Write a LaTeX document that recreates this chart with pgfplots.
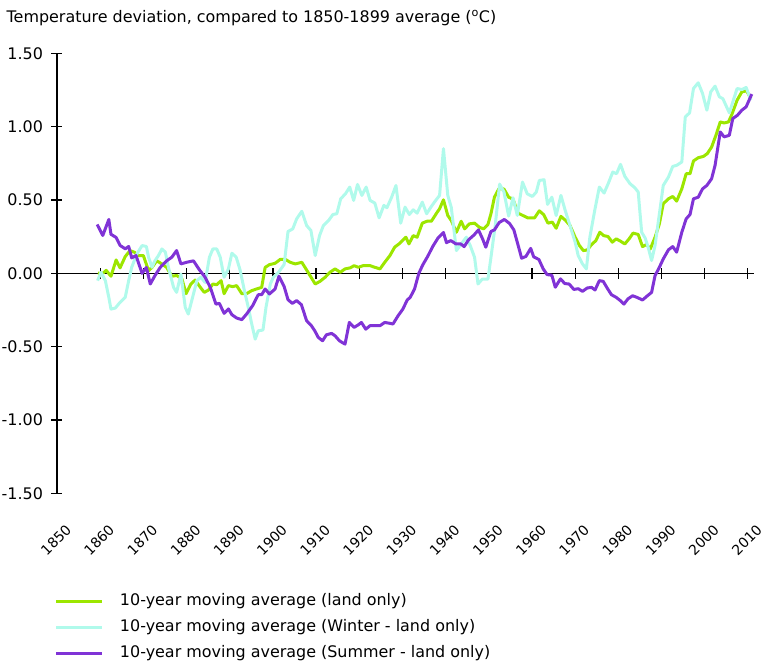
\documentclass[border=0pt]{standalone}
\usepackage{fontspec}
\setmainfont{DejaVu Sans}
\usepackage{pgfplots}
\usepackage{pgfplotstable}
\pgfplotsset{compat=1.18}
\definecolor{cgreen}{RGB}{156,230,0}
\definecolor{ccyan}{RGB}{176,250,235}
\definecolor{cpurple}{RGB}{128,51,214}

\pgfplotstableread{
x y
1859.5 0.003
1860.4 -0.006
1861.4 0.02
1862.5 -0.02
1863.7 0.091
1864.6 0.037
1865.8 0.114
1866.9 0.155
1867.9 0.144
1868.9 0.121
1870.0 0.121
1871.2 0.018
1872.0 0.040
1873.1 0.085
1874.3 0.064
1875.4 0.040
1876.6 -0.020
1877.7 -0.015
1878.9 -0.036
1879.9 -0.139
1881.0 -0.073
1882.0 -0.046
1883.2 -0.096
1884.1 -0.130
1885.1 -0.114
1886.1 -0.073
1887.0 -0.078
1888.0 -0.050
1888.7 -0.139
1889.7 -0.084
1890.7 -0.091
1891.6 -0.084
1892.8 -0.139
1893.9 -0.139
1895.1 -0.118
1896.2 -0.107
1897.4 -0.096
1898.2 0.040
1899.2 0.059
1900.5 0.068
1901.7 0.095
1902.9 0.095
1904.0 0.075
1905.2 0.064
1906.7 0.075
1907.9 0.018
1909.8 -0.073
1910.9 -0.055
1912.1 -0.027
1913.2 0.007
1914.4 0.030
1915.6 0.007
1916.7 0.030
1917.9 0.037
1918.8 0.052
1919.8 0.041
1920.9 0.052
1922.5 0.052
1923.6 0.041
1924.8 0.030
1925.9 0.075
1927.1 0.121
1928.2 0.178
1929.4 0.205
1930.8 0.246
1931.5 0.200
1932.5 0.257
1933.4 0.246
1934.6 0.342
1935.7 0.355
1936.7 0.355
1937.9 0.410
1938.6 0.440
1939.5 0.501
1940.5 0.394
1941.3 0.360
1942.5 0.280
1943.6 0.355
1944.4 0.303
1945.5 0.337
1946.7 0.342
1947.8 0.314
1948.8 0.303
1949.8 0.333
1950.5 0.406
1951.3 0.519
1952.3 0.575
1953.5 0.575
1954.6 0.519
1955.6 0.505
1956.8 0.410
1957.9 0.394
1959.0 0.378
1960.6 0.378
1961.7 0.426
1962.7 0.400
1963.7 0.342
1964.7 0.349
1965.6 0.307
1966.7 0.388
1967.8 0.360
1968.8 0.326
1970.0 0.246
1971.0 0.189
1971.9 0.155
1972.8 0.159
1973.8 0.196
1974.8 0.223
1975.7 0.280
1976.6 0.257
1977.6 0.251
1978.6 0.212
1979.5 0.235
1980.5 0.219
1981.5 0.200
1982.5 0.235
1983.4 0.274
1984.6 0.265
1985.6 0.182
1986.5 0.196
1987.4 0.166
1988.5 0.246
1989.5 0.337
1990.4 0.474
1991.6 0.508
1992.6 0.524
1993.5 0.492
1994.7 0.576
1995.7 0.679
1996.6 0.679
1997.4 0.766
1998.5 0.788
1999.7 0.797
2000.6 0.816
2001.6 0.861
2002.6 0.941
2003.6 1.032
2004.5 1.025
2005.5 1.032
2006.3 1.084
2007.5 1.180
2008.6 1.237
2009.7 1.244
2010.7 1.191
}\landdata

\pgfplotstableread{
x y
1859.4 -0.050
1860.2 0.007
1861.2 -0.050
1862.0 -0.164
1862.5 -0.244
1863.5 -0.237
1864.6 -0.198
1865.8 -0.164
1866.6 -0.050
1867.3 0.041
1868.5 0.132
1869.7 0.189
1870.7 0.183
1871.2 0.110
1872.0 0.041
1872.7 0.087
1873.5 0.121
1874.3 0.166
1875.1 0.144
1875.8 0.041
1877.0 -0.096
1877.7 -0.130
1878.7 -0.005
1879.7 -0.232
1880.4 -0.278
1881.4 -0.164
1882.4 -0.050
1883.3 -0.027
1884.3 -0.062
1885.3 0.110
1886.1 0.166
1887.0 0.166
1887.8 0.110
1888.7 -0.027
1889.7 0.030
1890.5 0.137
1891.5 0.110
1892.4 0.023
1893.4 -0.118
1894.3 -0.232
1895.1 -0.346
1895.9 -0.449
1896.6 -0.392
1897.7 -0.387
1898.4 -0.232
1899.4 -0.073
1900.1 -0.027
1901.3 0.007
1902.6 0.060
1903.5 0.285
1904.6 0.303
1905.5 0.371
1906.7 0.423
1907.8 0.326
1908.8 0.292
1909.8 0.121
1910.8 0.257
1911.7 0.326
1912.9 0.360
1913.9 0.401
1914.8 0.406
1915.7 0.508
1916.8 0.542
1917.8 0.588
1918.7 0.497
1919.6 0.606
1920.6 0.531
1921.6 0.588
1922.5 0.497
1923.6 0.479
1924.6 0.378
1925.7 0.463
1926.4 0.447
1927.5 0.519
1928.5 0.599
1929.6 0.342
1930.6 0.451
1931.6 0.401
1932.5 0.433
1933.4 0.410
1934.6 0.485
1935.6 0.406
1936.7 0.456
1937.7 0.497
1938.6 0.531
1939.5 0.850
1940.5 0.531
1941.3 0.451
1942.5 0.155
1943.6 0.200
1944.8 0.246
1945.7 0.189
1946.7 0.109
1947.5 -0.073
1948.5 -0.039
1949.8 -0.040
1950.5 0.109
1951.5 0.330
1952.5 0.608
1953.5 0.555
1954.6 0.390
1955.6 0.515
1956.6 0.395
1957.8 0.622
1958.9 0.542
1960.1 0.524
1961.0 0.554
1961.7 0.633
1962.8 0.638
1963.6 0.470
1964.6 0.519
1965.6 0.394
1966.7 0.531
1967.7 0.428
1968.8 0.326
1970.0 0.212
1970.7 0.121
1971.7 0.064
1972.6 0.030
1973.4 0.246
1974.6 0.440
1975.6 0.588
1976.7 0.547
1977.7 0.615
1978.7 0.690
1979.6 0.679
1980.5 0.743
1981.5 0.661
1982.7 0.611
1983.8 0.584
1984.6 0.554
1985.4 0.280
1986.2 0.241
1986.9 0.178
1987.7 0.087
1988.5 0.189
1989.5 0.405
1990.4 0.599
1991.6 0.656
1992.6 0.729
1993.5 0.736
1994.7 0.759
1995.5 1.066
1996.5 1.094
1997.4 1.260
1998.5 1.299
1999.5 1.226
2000.5 1.112
2001.4 1.237
2002.4 1.276
2003.4 1.203
2004.2 1.191
2005.7 1.094
2007.5 1.260
2008.6 1.253
2009.6 1.267
2010.7 1.180
}\winterdata

\pgfplotstableread{
x y
1859.3 0.333
1860.6 0.258
1862.0 0.367
1862.5 0.266
1863.7 0.244
1864.6 0.190
1865.8 0.167
1866.6 0.183
1867.3 0.105
1868.3 0.121
1869.7 0.000
1870.7 0.040
1871.6 -0.073
1872.7 -0.015
1873.9 0.040
1875.4 0.085
1876.6 0.110
1877.7 0.155
1878.7 0.064
1880.0 0.075
1881.6 0.085
1883.0 0.023
1884.3 -0.027
1885.5 -0.096
1886.8 -0.210
1887.6 -0.205
1888.7 -0.273
1889.7 -0.243
1890.5 -0.282
1891.6 -0.305
1892.8 -0.316
1893.9 -0.278
1895.3 -0.221
1896.6 -0.146
1897.4 -0.146
1898.2 -0.107
1899.2 -0.141
1900.5 -0.107
1901.4 -0.020
1902.6 -0.090
1903.5 -0.180
1904.5 -0.205
1905.5 -0.186
1906.6 -0.214
1907.8 -0.323
1908.9 -0.357
1909.7 -0.392
1910.5 -0.437
1911.5 -0.460
1912.4 -0.419
1913.6 -0.410
1914.4 -0.426
1915.4 -0.460
1916.7 -0.483
1917.7 -0.335
1918.8 -0.369
1919.8 -0.351
1920.5 -0.335
1921.5 -0.381
1922.5 -0.357
1923.6 -0.357
1924.8 -0.357
1925.9 -0.335
1927.1 -0.341
1927.8 -0.346
1929.0 -0.289
1930.1 -0.244
1931.1 -0.182
1931.8 -0.164
1932.8 -0.107
1933.8 0.000
1934.7 0.057
1935.9 0.118
1937.0 0.182
1938.2 0.239
1939.5 0.278
1940.2 0.209
1941.2 0.223
1942.4 0.200
1943.5 0.200
1944.3 0.182
1945.3 0.228
1946.6 0.262
1947.6 0.296
1948.6 0.232
1949.3 0.178
1950.5 0.285
1951.3 0.296
1952.4 0.346
1953.6 0.367
1954.8 0.340
1955.8 0.296
1956.8 0.190
1957.6 0.103
1958.6 0.115
1959.7 0.170
1960.4 0.112
1961.6 0.094
1962.6 0.030
1963.5 -0.009
1964.6 -0.013
1965.4 -0.095
1966.6 -0.038
1967.6 -0.070
1968.6 -0.073
1969.7 -0.110
1970.7 -0.105
1971.7 -0.123
1972.8 -0.100
1973.8 -0.096
1974.6 -0.114
1975.6 -0.050
1976.5 -0.055
1977.4 -0.100
1978.4 -0.146
1979.5 -0.164
1980.5 -0.187
1981.3 -0.210
1982.2 -0.175
1983.3 -0.153
1984.3 -0.164
1985.6 -0.182
1986.5 -0.159
1987.7 -0.130
1988.5 -0.016
1989.5 0.041
1990.4 0.098
1991.6 0.160
1992.6 0.182
1993.5 0.144
1994.7 0.280
1995.7 0.371
1996.6 0.401
1997.4 0.508
1998.5 0.519
1999.5 0.576
2000.5 0.599
2001.6 0.645
2002.4 0.736
2003.6 0.964
2004.5 0.930
2005.7 0.941
2006.5 1.055
2007.6 1.078
2008.6 1.112
2009.6 1.135
2010.9 1.222
}\summerdata

\begin{document}
\begin{tikzpicture}
\path[use as bounding box] (-57bp,-167.7bp) rectangle (711bp,493.3bp);
% zero line with crossing ticks
\begin{axis}[at={(0,0)}, anchor=south west, scale only axis,
  width=696.5bp, height=440bp,
  xmin=1850, xmax=2011.3, ymin=-1.5, ymax=1.5,
  axis x line*=middle, axis y line=none,
  xtick={1860,1870,...,2010}, xticklabels={},
  tick align=center, major tick length=11bp,
  every tick/.style={black, line width=1.2bp},
  x axis line style={black, line width=1.2bp}]
\end{axis}
% data axis
\begin{axis}[at={(0,0)}, anchor=south west, scale only axis,
  width=696.5bp, height=440bp,
  xmin=1850, xmax=2011.3, ymin=-1.5, ymax=1.5,
  axis x line*=bottom, axis y line*=left,
  x axis line style={draw=none},
  y axis line style={black, line width=1.2bp},
  xtick={1850,1860,...,2010},
  xtick style={draw=none},
  ytick={-1.5,-1,-0.5,0,0.5,1,1.5},
  ytick style={black, line width=1.2bp},
  tick align=center, major tick length=11bp,
  /pgf/number format/assume math mode=true,
  xticklabel style={font=\fontsize{14}{16}\selectfont, rotate=45, anchor=center, /pgf/number format/1000 sep={}, xshift=-1.5bp},
  xticklabel shift=40bp,
  yticklabel style={font=\fontsize{16}{18}\selectfont, xshift=-5bp, /pgf/number format/.cd, fixed, fixed zerofill, precision=2},
  legend style={at={(0,0)}, anchor=north west, xshift=-2bp, yshift=-101bp, draw=none, fill=none,
    inner sep=0pt, outer sep=0pt, row sep=12bp,
    font=\fontsize{16}{18}\selectfont,
    nodes={inner sep=0pt, text height=11bp, text depth=3bp},
    /tikz/every odd column/.append style={column sep=16bp}},
  legend cell align=left,
  legend image code/.code={\draw[#1, line width=3bp] (0bp,0bp) -- (46bp,0bp);},
  every axis plot/.append style={line width=3bp, line join=round}
]
\addplot[cgreen] table {\landdata};
\addlegendentry{10-year moving average (land only)}
\addplot[ccyan] table {\winterdata};
\addlegendentry{10-year moving average (Winter - land only)}
\addplot[cpurple] table {\summerdata};
\addlegendentry{10-year moving average (Summer - land only)}
\end{axis}
\node[anchor=base west, inner sep=0pt, font=\fontsize{16}{19}\selectfont] at (-50.5bp,470.7bp)
  {Temperature deviation, compared to 1850-1899 average (\textsuperscript{o}C)};
\end{tikzpicture}
\end{document}
